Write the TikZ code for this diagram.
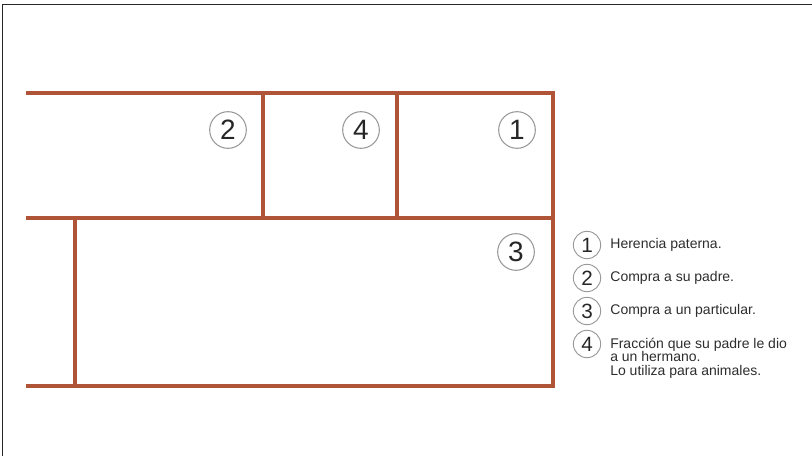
\documentclass[tikz,border=0pt]{standalone}
\usepackage{fontspec}
\setmainfont{Liberation Sans}
\usetikzlibrary{positioning}
\definecolor{ParcelRed}{RGB}{176,84,56}
\definecolor{FrameGray}{RGB}{40,40,40}
\definecolor{InkGray}{RGB}{45,45,45}
\tikzset{
	frame/.style={FrameGray, line width=1.4pt},
	parcel/.style={ParcelRed, line width=2.7pt},
	numcircle/.style={
		circle, draw=black!40, line width=0.8pt,
		minimum size=27.5pt, inner sep=0pt, text=black!85,
		font=\fontsize{21}{21}\selectfont
	},
	legcircle/.style={
		circle, draw=black!40, line width=0.7pt,
		minimum size=20.5pt, inner sep=0pt, text=black!85,
		font=\fontsize{15.5}{15.5}\selectfont
	},
	legtext/.style={
		text=InkGray, inner sep=0pt, align=left,
		font=\fontsize{10.5}{10}\selectfont
	},
}

\begin{document}
\begin{tikzpicture}[x=0.75pt, y=-0.75pt]
		\useasboundingbox (0,0) rectangle (812,456);
		
		% page frame (top and left only)
		\draw[frame] (2.5,456)--(2.5,4.5)--(812,4.5);
		
		% parcels
		\draw[parcel] (26,93)--(553,93)--(553,386)--(26,386);
		\draw[parcel] (26,218)--(553,218);
		\draw[parcel] (263,93)--(263,218);
		\draw[parcel] (397,93)--(397,218);
		\draw[parcel] (75,218)--(75,386);
		
		% parcel numbers
		\node[numcircle] (P2) at (228,130) {2};
		\node[numcircle] (P4) at (361,130) {4};
		\node[numcircle] (P1) at (517,130) {1};
		\node[numcircle] (P3) at (516,252) {3};
		
		% legend
		\node[legcircle] (L1) at (587,245) {1};
		\node[legcircle] (L2) at (587,278) {2};
		\node[legcircle] (L3) at (587,311) {3};
		\node[legcircle] (L4) at (587,344) {4};
		
		\node[legtext, right=6.75pt of L1] (T1) {Herencia paterna.};
		\node[legtext, right=6.75pt of L2] (T2) {Compra a su padre.};
		\node[legtext, right=6.75pt of L3] (T3) {Compra a un particular.};
		\node[legtext, anchor=north west] (T4) at (610,338)
		{Fracción que su padre le dio\\a un hermano.\\Lo utiliza para animales.};
	\end{tikzpicture}
\end{document}
